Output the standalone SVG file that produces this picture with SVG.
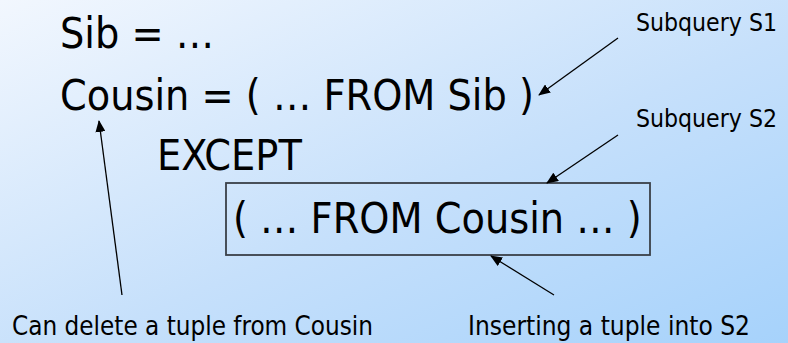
<svg xmlns="http://www.w3.org/2000/svg" width="788" height="343" viewBox="0 0 788 343">
  <defs>
    <linearGradient id="bg" x1="0" y1="0" x2="1" y2="1">
      <stop offset="0" stop-color="#f2f7fe"/>
      <stop offset="0.55" stop-color="#c6e0fb"/>
      <stop offset="1" stop-color="#a6d2fb"/>
    </linearGradient>
    <marker id="arrow" viewBox="0 0 12 10" refX="11" refY="5" markerWidth="12" markerHeight="10" markerUnits="userSpaceOnUse" orient="auto">
      <path d="M0,0 L12,5 L0,10 Z" fill="#000"/>
    </marker>
    <style>
      .code { font-family: "DejaVu Sans Condensed", "DejaVu Sans", sans-serif; font-stretch: condensed; font-size: 42.6px; fill: #000; }
      .note { font-family: "DejaVu Sans Condensed", "DejaVu Sans", sans-serif; font-stretch: condensed; font-size: 27px; fill: #000; }
      .note.edge { font-size: 25.5px; }
      .conn { stroke: #000; stroke-width: 1.3; fill: none; marker-end: url(#arrow); }
    </style>
  </defs>

  <rect width="788" height="343" fill="url(#bg)"/>

  <g id="code">
    <text class="code" x="60" y="48">Sib = …</text>
    <text class="code" x="60" y="110">Cousin = ( … FROM Sib )</text>
    <text class="code" x="157" y="170">EXCEPT</text>
  </g>

  <g id="s2-box">
    <rect x="226" y="183" width="424" height="72" fill="none" stroke="#3a4048" stroke-width="1.8"/>
    <text class="code" x="233" y="233">( … FROM Cousin … )</text>
  </g>

  <g id="label-s1">
    <text class="note edge" x="636" y="31" textLength="141" lengthAdjust="spacingAndGlyphs">Subquery S1</text>
  </g>
  <g id="label-s2">
    <text class="note edge" x="636" y="127" textLength="141" lengthAdjust="spacingAndGlyphs">Subquery S2</text>
  </g>
  <g id="label-delete">
    <text class="note" x="12" y="335" textLength="361" lengthAdjust="spacingAndGlyphs">Can delete a tuple from Cousin</text>
  </g>
  <g id="label-insert">
    <text class="note" x="468" y="335" textLength="282" lengthAdjust="spacingAndGlyphs">Inserting a tuple into S2</text>
  </g>

  <g id="connectors">
    <line class="conn" x1="618" y1="38" x2="539" y2="95"/>
    <line class="conn" x1="618" y1="135" x2="547" y2="183"/>
    <line class="conn" x1="554" y1="295" x2="491" y2="256"/>
    <line class="conn" x1="122" y1="295" x2="99" y2="121"/>
  </g>
</svg>
